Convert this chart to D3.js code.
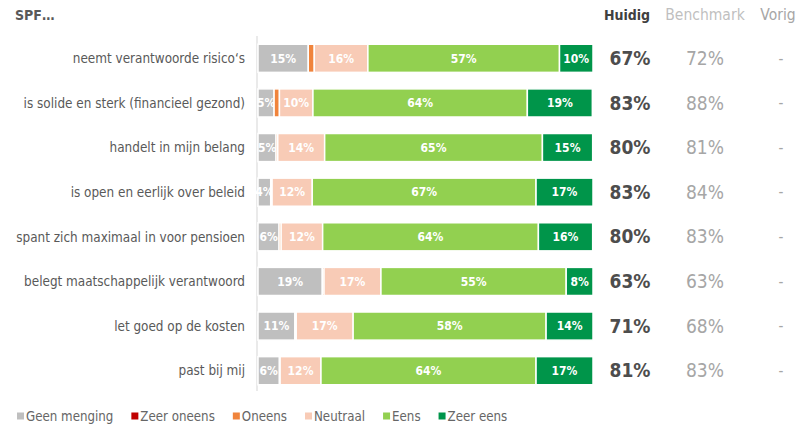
<!DOCTYPE html>
<html>
<head>
<meta charset="utf-8">
<script src="https://cdn.jsdelivr.net/npm/d3@7"></script>
<style>
  body { margin: 0; background: #fff; }
  svg { display: block; font-family: "DejaVu Sans Condensed", "DejaVu Sans", sans-serif; font-stretch: condensed; }
</style>
</head>
<body>
<div id="chart"></div>
<script>
// data
const categories = [
  "neemt verantwoorde risico\u2018s",
  "is solide en sterk (financieel gezond)",
  "handelt in mijn belang",
  "is open en eerlijk over beleid",
  "spant zich maximaal in voor pensioen",
  "belegt maatschappelijk verantwoord",
  "let goed op de kosten",
  "past bij mij"
];
const seriesNames = ["Geen menging", "Zeer oneens", "Oneens", "Neutraal", "Eens", "Zeer eens"];
const geenMenging = [15, 4.8, 5.4, 3.8, 6.3, 19.2, 11, 6.4];
const zeerOneens  = [0, 0, 0, 0, 0, 0, 0, 0];
const oneens      = [1.8, 1.6, 0.5, 0.4, 0.6, 0.5, 0.4, 0.2];
const neutraal    = [16, 10, 14, 12, 12.4, 17, 17, 12.2];
const eens        = [57.2, 64, 65, 66.8, 64.4, 55.3, 57.6, 64.2];
const zeerEens    = [10, 19.4, 15, 17, 16.2, 8, 14, 17];
const huidig      = ["67%", "83%", "80%", "83%", "80%", "63%", "71%", "81%"];
const benchmark   = ["72%", "88%", "81%", "84%", "83%", "63%", "68%", "83%"];
const vorig       = ["-", "-", "-", "-", "-", "-", "-", "-"];
const colors = ["#bfbfbf", "#c00000", "#f0843c", "#f8cbb6", "#92d050", "#00954a"];

const width = 799, height = 429;
const svg = d3.select("#chart").append("svg")
  .attr("width", width).attr("height", height);

const rows = categories.map((c, i) => ({
  name: c,
  values: [geenMenging[i], zeerOneens[i], oneens[i], neutraal[i], eens[i], zeerEens[i]]
}));

const x = d3.scaleLinear().domain([0, 100]).range([258, 593]);
const y = d3.scaleBand().domain(categories).range([36, 393])
  .paddingInner(0.37).paddingOuter(0.185);

// header
svg.append("text").attr("x", 15).attr("y", 20)
  .attr("font-size", 14).attr("font-weight", "bold").attr("fill", "#595959")
  .text("SPF\u2026");
const headers = [
  { t: "Huidig", x: 627, c: "#404040", w: "bold", s: 14 },
  { t: "Benchmark", x: 705, c: "#bfbfbf", w: "normal", s: 15.5 },
  { t: "Vorig", x: 778, c: "#a6a6a6", w: "normal", s: 15.5 }
];
svg.selectAll(".hdr").data(headers).enter().append("text")
  .attr("class", "hdr")
  .attr("x", d => d.x).attr("y", 20)
  .attr("text-anchor", "middle")
  .attr("font-size", d => d.s).attr("font-weight", d => d.w).attr("fill", d => d.c)
  .text(d => d.t);

// axis line
svg.append("line")
  .attr("x1", 257).attr("x2", 257).attr("y1", 36).attr("y2", 391)
  .attr("stroke", "#e3e3e3").attr("stroke-width", 1.5);

// category labels
svg.selectAll(".cat").data(categories).enter().append("text")
  .attr("class", "cat")
  .attr("x", 245).attr("y", d => y(d) + y.bandwidth() / 2)
  .attr("dy", "0.35em").attr("text-anchor", "end")
  .attr("font-size", 13.4).attr("fill", "#595959")
  .text(d => d);

// stacked bars
const row = svg.selectAll(".row").data(rows).enter().append("g")
  .attr("class", "row")
  .attr("transform", d => `translate(0,${y(d.name)})`);

const segs = row.selectAll(".seg")
  .data(d => {
    let acc = 0;
    return d.values.map((v, k) => {
      const s = { k, v, x0: acc, x1: acc + v };
      acc += v;
      return s;
    });
  })
  .enter().append("g").attr("class", "seg");

segs.filter(d => d.v > 0).append("rect")
  .attr("x", d => x(d.x0))
  .attr("width", d => x(d.x1) - x(d.x0))
  .attr("height", y.bandwidth())
  .attr("fill", d => colors[d.k])
  .attr("stroke", "#fff").attr("stroke-width", 1.5);

segs.filter(d => d.v >= 3).append("text")
  .attr("x", d => (x(d.x0) + x(d.x1)) / 2)
  .attr("y", y.bandwidth() / 2)
  .attr("dy", "0.35em").attr("text-anchor", "middle")
  .attr("font-size", 12).attr("font-weight", "bold").attr("fill", "#fff")
  .text(d => Math.round(d.v) + "%");

// value columns
const cols = [
  { vals: huidig, x: 630, c: "#4d4d4d", w: "bold", s: 19 },
  { vals: benchmark, x: 705, c: "#a6a6a6", w: "normal", s: 19 },
  { vals: vorig, x: 781, c: "#a6a6a6", w: "normal", s: 15 }
];
cols.forEach(col => {
  svg.selectAll(null).data(col.vals).enter().append("text")
    .attr("x", col.x)
    .attr("y", (d, i) => y(categories[i]) + y.bandwidth() / 2)
    .attr("dy", "0.35em").attr("text-anchor", "middle")
    .attr("font-size", col.s).attr("font-weight", col.w).attr("fill", col.c)
    .text(d => d);
});

// legend
const legend = svg.append("g").attr("transform", "translate(17,416)");
let lx = 0;
seriesNames.forEach((n, i) => {
  const g = legend.append("g").attr("transform", `translate(${lx},0)`);
  g.append("rect").attr("x", 0).attr("y", -3.5).attr("width", 7).attr("height", 7)
    .attr("fill", colors[i]);
  const t = g.append("text").attr("x", 9).attr("dy", "0.35em")
    .attr("font-size", 13.2).attr("fill", "#666")
    .text(n);
  lx += 9 + t.node().getComputedTextLength() + 18;
});
</script>
</body>
</html>
